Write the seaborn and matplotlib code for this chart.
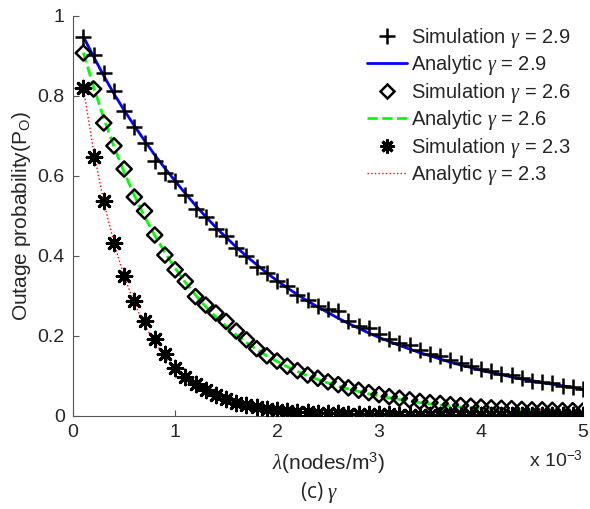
import numpy as np
import pandas as pd
import matplotlib
matplotlib.use("Agg")
import matplotlib.pyplot as plt
import seaborn as sns
from matplotlib.lines import Line2D

# data (lambda in units of 1e-3 nodes/m^3)
lam = [round(0.1 * k, 1) for k in range(1, 51)]

sim_29 = [0.946, 0.902, 0.857, 0.813, 0.762, 0.723, 0.683, 0.636, 0.607, 0.586,
          0.552, 0.517, 0.498, 0.467, 0.450, 0.420, 0.400, 0.372, 0.357, 0.336,
          0.325, 0.302, 0.290, 0.275, 0.268, 0.262, 0.238, 0.225, 0.220, 0.205,
          0.192, 0.183, 0.177, 0.165, 0.155, 0.150, 0.139, 0.132, 0.125, 0.118,
          0.112, 0.104, 0.103, 0.095, 0.088, 0.085, 0.082, 0.075, 0.072, 0.067]
ana_29 = [0.948, 0.898, 0.850, 0.805, 0.764, 0.725, 0.688, 0.652, 0.619, 0.587,
          0.556, 0.526, 0.498, 0.471, 0.446, 0.422, 0.399, 0.378, 0.357, 0.338,
          0.320, 0.303, 0.287, 0.272, 0.258, 0.244, 0.231, 0.219, 0.207, 0.196,
          0.186, 0.176, 0.167, 0.158, 0.150, 0.142, 0.134, 0.127, 0.121, 0.114,
          0.108, 0.103, 0.097, 0.092, 0.088, 0.083, 0.079, 0.075, 0.071, 0.066]

sim_26 = [0.907, 0.817, 0.732, 0.675, 0.617, 0.547, 0.512, 0.452, 0.402, 0.365,
          0.336, 0.298, 0.277, 0.257, 0.236, 0.212, 0.190, 0.168, 0.150, 0.137,
          0.124, 0.113, 0.102, 0.094, 0.085, 0.078, 0.070, 0.064, 0.058, 0.053,
          0.048, 0.044, 0.040, 0.036, 0.033, 0.031, 0.028, 0.026, 0.024, 0.022,
          0.020, 0.019, 0.018, 0.016, 0.015, 0.015, 0.014, 0.013, 0.013, 0.012]
ana_26 = [0.908, 0.822, 0.744, 0.673, 0.609, 0.551, 0.498, 0.451, 0.408, 0.369,
          0.334, 0.302, 0.273, 0.247, 0.224, 0.202, 0.183, 0.166, 0.150, 0.136,
          0.123, 0.111, 0.100, 0.091, 0.082, 0.074, 0.067, 0.061, 0.055, 0.050,
          0.045, 0.041, 0.037, 0.033, 0.030, 0.027, 0.025, 0.022, 0.020, 0.018,
          0.016, 0.015, 0.013, 0.012, 0.011, 0.010, 0.009, 0.008, 0.0075, 0.0068]

sim_23 = [0.820, 0.648, 0.537, 0.432, 0.350, 0.287, 0.236, 0.192, 0.154, 0.119,
          0.098, 0.079, 0.065, 0.052, 0.041, 0.033, 0.027, 0.021, 0.017, 0.014,
          0.012, 0.010, 0.009, 0.008, 0.007, 0.006, 0.005, 0.005, 0.004, 0.004,
          0.004, 0.003, 0.003, 0.003, 0.003, 0.002, 0.002, 0.002, 0.002, 0.002,
          0.002, 0.002, 0.001, 0.001, 0.001, 0.001, 0.001, 0.001, 0.001, 0.001]
ana_23 = [0.820, 0.662, 0.535, 0.432, 0.349, 0.282, 0.227, 0.184, 0.148, 0.120,
          0.097, 0.078, 0.063, 0.051, 0.041, 0.033, 0.027, 0.022, 0.017, 0.014,
          0.011, 0.009, 0.0074, 0.0060, 0.0048, 0.0039, 0.0031, 0.0025, 0.0020, 0.0016,
          0.0013, 0.0011, 0.0009, 0.0007, 0.0006, 0.0005, 0.0004, 0.0003, 0.0003, 0.0002,
          0.0002, 0.0002, 0.0001, 0.0001, 0.0001, 0.0001, 0.0001, 0.0, 0.0, 0.0]

xticks = [0, 1, 2, 3, 4, 5]
yticks = [0, 0.2, 0.4, 0.6, 0.8, 1]
ytick_labels = ["0", "0.2", "0.4", "0.6", "0.8", "1"]

sns.set_style("ticks")
plt.rcParams["font.family"] = ["Liberation Sans", "DejaVu Sans"]
plt.rcParams["mathtext.fontset"] = "custom"
plt.rcParams["mathtext.rm"] = "Liberation Sans"
plt.rcParams["mathtext.it"] = "Liberation Serif:italic"

df = pd.DataFrame({"lam": lam, "s29": sim_29, "a29": ana_29, "s26": sim_26,
                   "a26": ana_26, "s23": sim_23, "a23": ana_23})

fig = plt.figure(figsize=(5.9, 5.09), dpi=100)
ax = fig.add_axes([0.124, 0.183, 0.864, 0.786])

# analytic curves
sns.lineplot(data=df, x="lam", y="a29", ax=ax, color="#0000ff", lw=2, label="_a29")
sns.lineplot(data=df, x="lam", y="a26", ax=ax, color="#00ff00", lw=2,
             linestyle="--", label="_a26")
sns.lineplot(data=df, x="lam", y="a23", ax=ax, color="#ff0000", lw=1,
             linestyle=":", label="_a23")

# simulation points
sns.scatterplot(data=df, x="lam", y="s29", ax=ax, marker="+", s=130,
                color="black", linewidth=1.8, zorder=3, label="_s29")
sns.scatterplot(data=df, x="lam", y="s26", ax=ax, marker="D", s=60,
                facecolor="none", edgecolor="black", linewidth=1.8, zorder=3,
                label="_s26")
sns.scatterplot(data=df, x="lam", y="s23", ax=ax, marker=(8, 2, 0), s=110,
                color="black", edgecolor="black", linewidth=2.2, zorder=3,
                label="_s23")

ax.set_xlim(0, 5)
ax.set_ylim(0, 1)
ax.set_xticks(xticks)
ax.set_yticks(yticks)
ax.set_yticklabels(ytick_labels)
ax.tick_params(direction="in", length=4, labelsize=14, color="#555555", pad=6)
for side in ["left", "bottom"]:
    ax.spines[side].set_color("#555555")
sns.despine(ax=ax)

ax.set_xlabel(r"$\lambda$(nodes/m$^3$)", fontsize=15, labelpad=7)
ax.set_ylabel(r"Outage probability(P$_\mathrm{O}$)", fontsize=15, labelpad=3)
ax.text(1.0, -0.085, r"x 10$^{-3}$", transform=ax.transAxes, ha="right",
        va="top", fontsize=14)
fig.text(0.541, 0.032, r"(c) $\mathit{\gamma}$", ha="center", va="center",
         fontsize=15, family="Open Sans")

handles = [
    Line2D([], [], marker="+", color="black", ls="", ms=11, mew=1.8),
    Line2D([], [], color="#0000ff", lw=2),
    Line2D([], [], marker="D", mfc="none", mec="black", ls="", ms=7, mew=1.8),
    Line2D([], [], color="#00ff00", lw=2, ls="--"),
    Line2D([], [], marker=(8, 2, 0), color="black", ls="", ms=10, mew=2.2),
    Line2D([], [], color="#ff0000", lw=1, ls=":"),
]
labels = [r"Simulation $\gamma$ = 2.9", r"Analytic $\gamma$ = 2.9",
          r"Simulation $\gamma$ = 2.6", r"Analytic $\gamma$ = 2.6",
          r"Simulation $\gamma$ = 2.3", r"Analytic $\gamma$ = 2.3"]
ax.legend(handles, labels, loc="upper right", bbox_to_anchor=(1.0, 1.005),
          frameon=False, fontsize=14.5, handlelength=2.0, handletextpad=0.2,
          labelspacing=0.17, borderaxespad=0.2)

fig.savefig("out.png", dpi=100)
